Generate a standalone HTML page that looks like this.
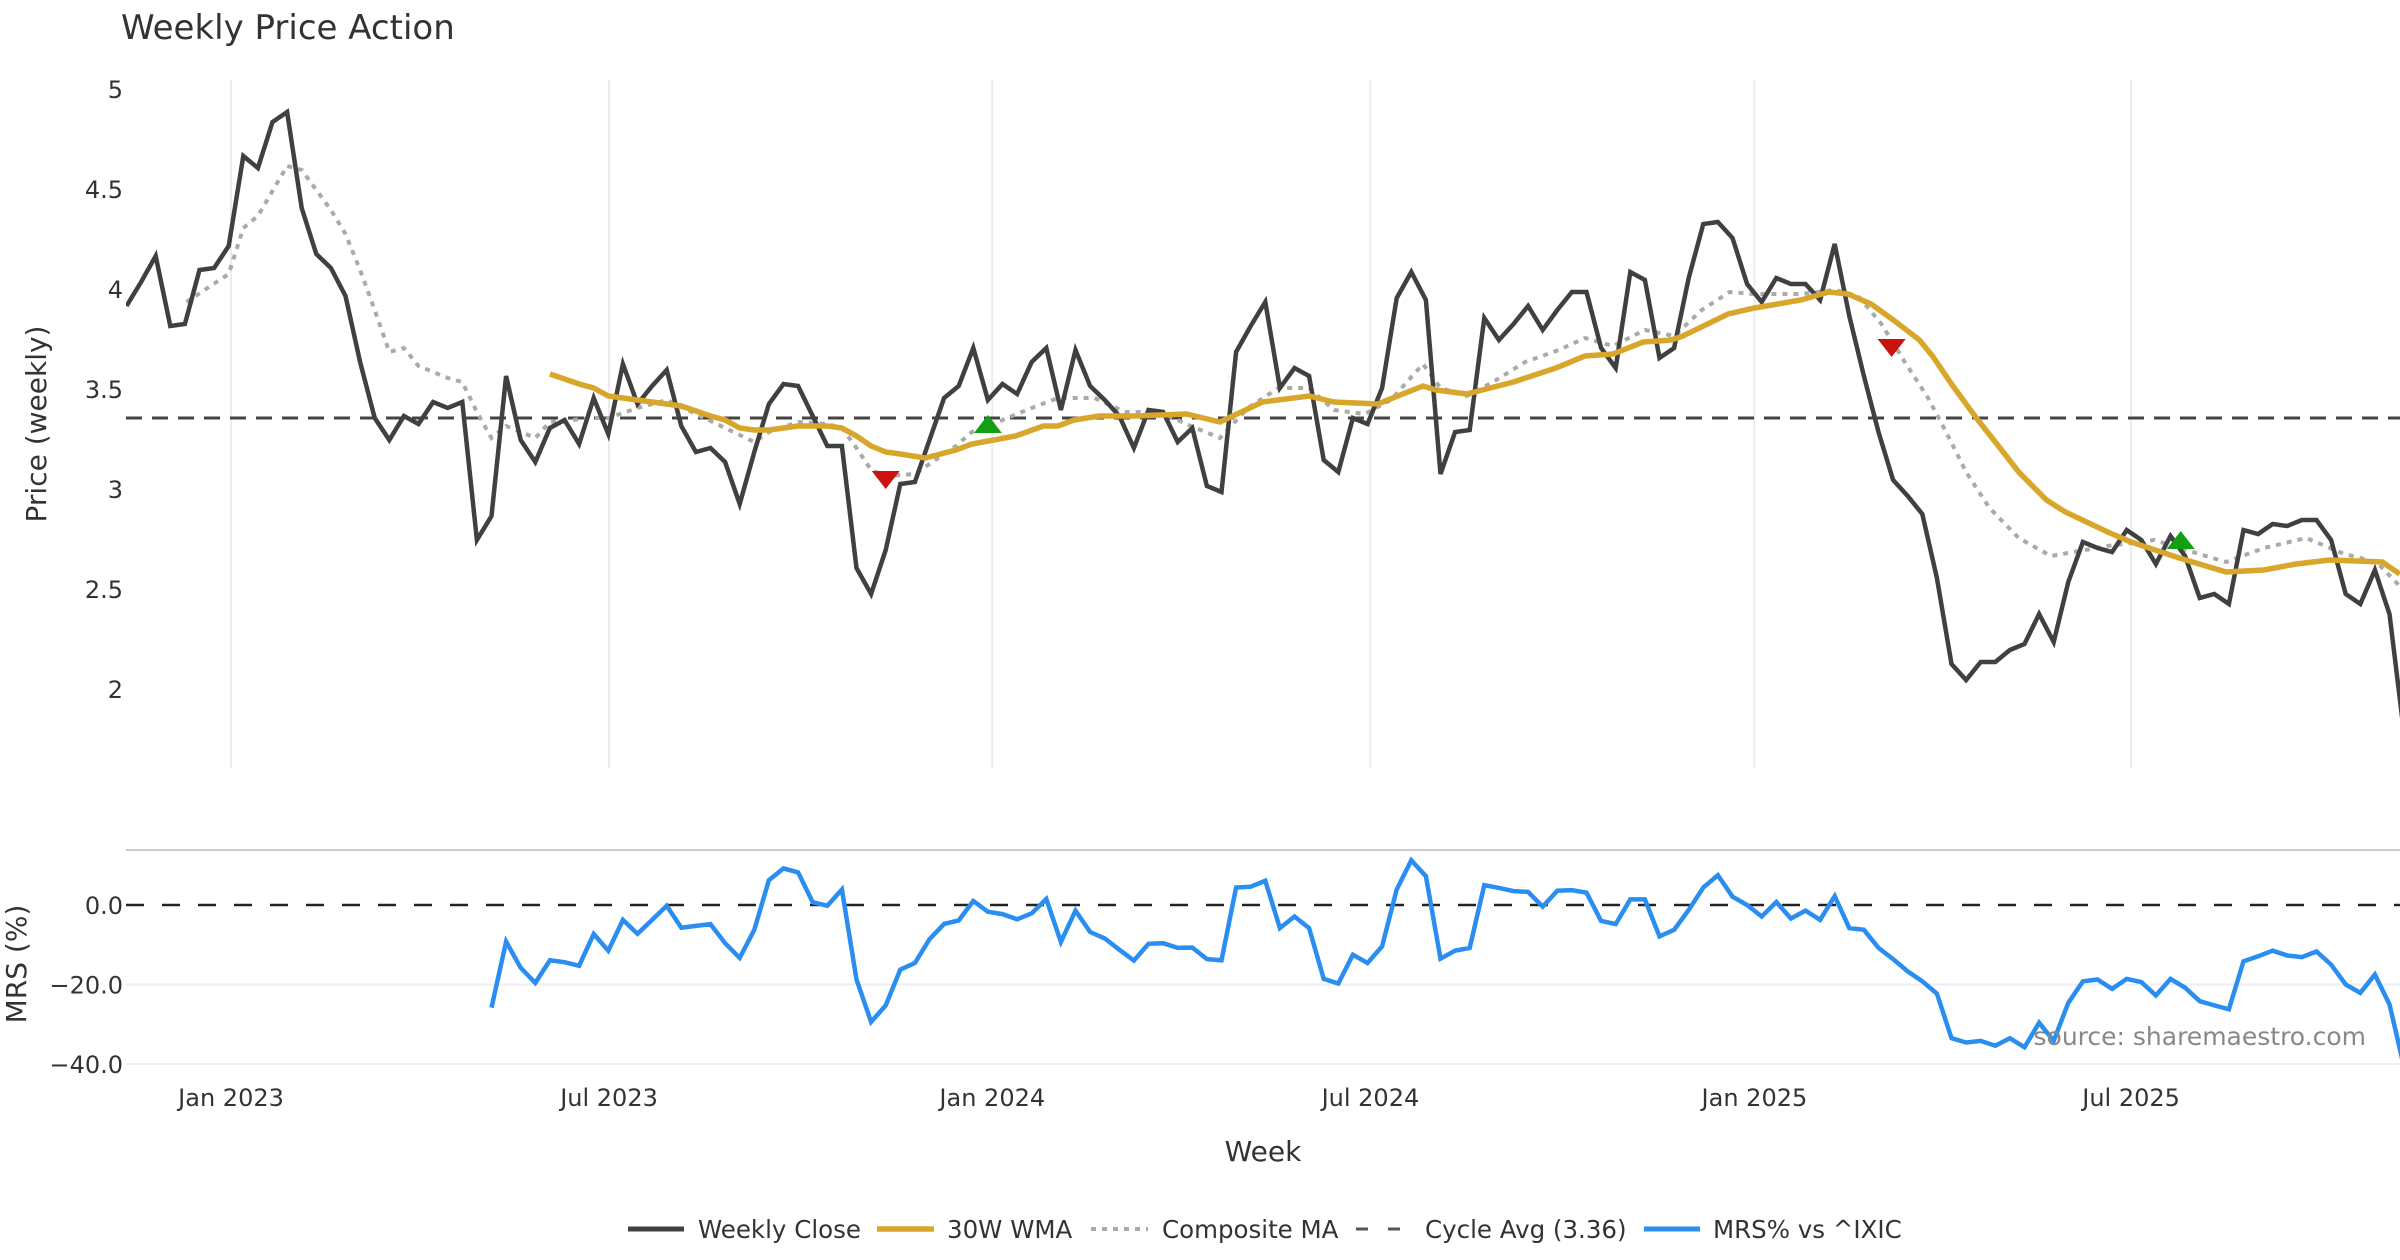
<!DOCTYPE html>
<html><head><meta charset="utf-8"><title>Weekly Price Action</title>
<style>
html,body{margin:0;padding:0;background:#fff;}
svg{display:block;font-family:"DejaVu Sans","Liberation Sans",sans-serif;}
</style></head>
<body>
<svg id="chart" width="2400" height="1260" viewBox="0 0 2400 1260" xmlns="http://www.w3.org/2000/svg">
<rect width="2400" height="1260" fill="#fff"/>
<text x="121" y="39" font-size="34" fill="#333">Weekly Price Action</text>
<text transform="translate(46,424) rotate(-90)" text-anchor="middle" font-size="28" fill="#333">Price (weekly)</text>
<text transform="translate(26,964) rotate(-90)" text-anchor="middle" font-size="28" fill="#333">MRS (%)</text>
<text x="1263" y="1161" text-anchor="middle" font-size="28" fill="#333">Week</text>
<line x1="126" y1="850" x2="2400" y2="850" stroke="#ccc" stroke-width="2"/>
<g id="grid"></g>
<g id="series"></g>
<text x="2366" y="1045" text-anchor="end" font-size="25" fill="#888">source: sharemaestro.com</text>
<g id="legend"></g>
</svg>
<script>
// ---- data ----
const closeWeeks = [0,1,2,3,4,5,6,7,8,9,10,11,12,13,14,15,16,17,18,19,20,21,22,23,24,25,26,27,28,29,30,31,32,33,34,35,36,37,38,39,40,41,42,43,44,45,46,47,48,49,50,51,52,53,54,55,56,57,58,59,60,61,62,63,64,65,66,67,68,69,70,71,72,73,74,75,76,77,78,79,80,81,82,83,84,85,86,87,88,89,90,91,92,93,94,95,96,97,98,99,100,101,102,103,104,105,106,107,108,109,110,111,112,113,114,115,116,117,118,119,120,121,122,123,124,125,126,127,128,129,130,131,132,133,134,135,136,137,138,139,140,141,142,143,144,145,146,147,148,149,150,151,152,153,154,155,156];
const closeValues = [3.92,4.04,4.17,3.82,3.83,4.10,4.11,4.22,4.67,4.61,4.84,4.89,4.41,4.18,4.11,3.97,3.64,3.36,3.25,3.37,3.33,3.44,3.41,3.44,2.75,2.87,3.57,3.25,3.14,3.31,3.35,3.23,3.46,3.28,3.63,3.43,3.52,3.60,3.32,3.19,3.21,3.14,2.93,3.19,3.43,3.53,3.52,3.37,3.22,3.22,2.61,2.48,2.70,3.03,3.04,3.25,3.46,3.52,3.71,3.45,3.53,3.48,3.64,3.71,3.40,3.70,3.52,3.45,3.37,3.21,3.40,3.39,3.24,3.31,3.02,2.99,3.69,3.82,3.94,3.51,3.61,3.57,3.15,3.09,3.36,3.33,3.51,3.96,4.09,3.95,3.08,3.29,3.30,3.86,3.75,3.83,3.92,3.80,3.90,3.99,3.99,3.71,3.61,4.09,4.05,3.66,3.71,4.06,4.33,4.34,4.26,4.03,3.94,4.06,4.03,4.03,3.95,4.23,3.87,3.57,3.29,3.05,2.97,2.88,2.56,2.13,2.05,2.14,2.14,2.20,2.23,2.38,2.24,2.54,2.74,2.71,2.69,2.80,2.75,2.63,2.77,2.67,2.46,2.48,2.43,2.80,2.78,2.83,2.82,2.85,2.85,2.75,2.48,2.43,2.60,2.38,1.78];
const wmaWeeks = [29,31,32,33,35,36,37,38,40,41,42,43,44,45,46,47,48,49,50,51,52,53,54.7,56.8,57.9,60.9,62.8,63.8,64.9,66.6,69,72.6,74.9,77.8,81,82.7,85.7,88.8,89.7,91.8,95,97.9,99.9,101.8,103.9,105.8,106.6,109.7,111.5,114.7,116.6,117.9,119.5,121.2,122.8,123.7,125,126.7,128,129.6,131.5,132.8,135.7,137.3,140.6,143.8,146.4,148.6,150.9,154.5,155.7];
const wmaValues = [3.58,3.53,3.51,3.47,3.45,3.44,3.43,3.42,3.37,3.35,3.31,3.30,3.30,3.31,3.32,3.32,3.32,3.31,3.27,3.22,3.19,3.18,3.16,3.20,3.23,3.27,3.32,3.32,3.35,3.37,3.37,3.38,3.34,3.44,3.47,3.44,3.43,3.52,3.50,3.48,3.54,3.61,3.67,3.68,3.74,3.75,3.77,3.88,3.91,3.95,3.99,3.98,3.93,3.84,3.75,3.67,3.53,3.36,3.24,3.09,2.95,2.89,2.79,2.74,2.66,2.59,2.60,2.63,2.65,2.64,2.58];
const compWeeks = [4.1,7,8,9,11,12,14,15,16,17,18,19,20,22,23,24,25,26,28,29,32,33,35,37,39,41,43,44,46,48,49,50,51,52,54,56.8,57.9,60,62,63.8,66.3,68.4,70.8,72.9,74.9,76.8,78.9,81,82.7,84.8,86.6,88.8,90,91.8,93.6,95.8,98.1,99.9,101.8,104,106,107.9,109.8,111.5,114.7,117,118.6,120.2,121.8,123.4,124.7,126,127.6,129.6,131.8,133.4,135.7,138.9,141.5,143.8,146.4,149.3,151.9,154.1,155.7];
const compValues = [3.94,4.08,4.31,4.37,4.62,4.60,4.40,4.28,4.10,3.90,3.69,3.71,3.62,3.56,3.54,3.39,3.26,3.32,3.26,3.34,3.36,3.36,3.41,3.45,3.38,3.31,3.24,3.29,3.34,3.33,3.31,3.21,3.10,3.07,3.08,3.22,3.29,3.35,3.41,3.46,3.46,3.39,3.39,3.32,3.26,3.41,3.51,3.51,3.40,3.38,3.45,3.63,3.51,3.47,3.54,3.64,3.70,3.76,3.72,3.80,3.77,3.90,3.99,3.98,3.98,4.00,3.97,3.83,3.64,3.46,3.28,3.09,2.91,2.76,2.67,2.69,2.72,2.75,2.69,2.64,2.71,2.76,2.68,2.64,2.52];
const cycleAvg = 3.36;
const sellWeeks = [52,120.9];
const sellValues = [3.05,3.71];
const buyWeeks = [59,140.7];
const buyValues = [3.33,2.75];
const mrsStart = 25;
const mrsValues = [-25.8,-9.2,-15.8,-19.6,-13.9,-14.4,-15.3,-7.3,-11.5,-3.75,-7.25,-3.75,-0.2,-5.7,-5.25,-4.8,-9.6,-13.3,-6.25,6.25,9.2,8.2,0.7,-0.2,3.9,-18.75,-29.4,-25.25,-16.25,-14.6,-8.6,-4.75,-3.9,1.0,-1.7,-2.3,-3.6,-2.1,1.5,-9.3,-1.4,-6.8,-8.4,-11.25,-14,-9.75,-9.6,-10.8,-10.7,-13.6,-13.9,4.4,4.6,6.1,-5.8,-2.9,-5.8,-18.6,-19.75,-12.5,-14.6,-10.4,3.9,11.25,7.25,-13.5,-11.5,-10.8,5.0,4.3,3.5,3.3,-0.4,3.6,3.75,3.1,-4,-4.8,1.4,1.4,-7.9,-6.25,-1.25,4.4,7.5,2.1,0,-2.9,0.75,-3.4,-1.4,-3.75,2.25,-5.8,-6.25,-10.8,-13.6,-16.7,-19.2,-22.3,-33.5,-34.6,-34.2,-35.4,-33.5,-35.8,-29.6,-34.2,-24.6,-19.2,-18.75,-21.1,-18.6,-19.4,-22.75,-18.6,-20.8,-24.2,-25.25,-26.25,-14.2,-12.9,-11.5,-12.7,-13.1,-11.7,-15,-20,-22.1,-17.5,-25,-40.8];
const xTickWeeks = [7.16,33.05,59.3,85.2,111.5,137.3];
const xTickLabels = ["Jan 2023","Jul 2023","Jan 2024","Jul 2024","Jan 2025","Jul 2025"];
const priceTicks = [5,4.5,4,3.5,3,2.5,2];
const priceTickLabels = ["5","4.5","4","3.5","3","2.5","2"];
const mrsTicks = [0,-20,-40];
const mrsTickLabels = ["0.0","\u221220.0","\u221240.0"];

// ---- axes ----
const NS = "http://www.w3.org/2000/svg";
const X0 = 126.5, XW = 14.6;
function xs(w){ return X0 + w*XW; }
function yp(v){ return 90 + (5 - v)*200; }
function ym(v){ return 905 - v*3.975; }
function mk(tag, attrs, parent){
  const e = document.createElementNS(NS, tag);
  for (const k in attrs) e.setAttribute(k, attrs[k]);
  parent.appendChild(e); return e;
}
const grid = document.getElementById('grid');
const series = document.getElementById('series');
const legend = document.getElementById('legend');

const defs = mk('defs', {}, document.getElementById('chart'));
const cp1 = mk('clipPath', {id:'cpTop'}, defs); mk('rect',{x:126,y:78,width:2274,height:692},cp1);
const cp2 = mk('clipPath', {id:'cpBot'}, defs); mk('rect',{x:126,y:851,width:2274,height:222},cp2);

xTickWeeks.forEach((w,i)=>{
  const g = mk('line',{x1:xs(w),y1:80,x2:xs(w),y2:768,stroke:'#ececf0','stroke-width':2},grid);
  
  
  const t = mk('text',{x:xs(w),y:1106,'text-anchor':'middle','font-size':24,fill:'#333'},grid);
  t.textContent = xTickLabels[i];
  
  
});
priceTicks.forEach((v,i)=>{
  const t = mk('text',{x:123,y:yp(v)+8,'text-anchor':'end','font-size':24,fill:'#333'},grid);
  t.textContent = priceTickLabels[i];
  
  
});
mrsTicks.forEach((v,i)=>{
  if (v!==0){
    const l = mk('line',{x1:126,y1:ym(v),x2:2400,y2:ym(v),stroke:'#eeeef4','stroke-width':2},grid);
    
    
  }
  const t = mk('text',{x:123,y:ym(v)+9,'text-anchor':'end','font-size':24,fill:'#333'},grid);
  t.textContent = mrsTickLabels[i];
  
  
});

function pathFrom(ws, vs, yf){
  return ws.map((w,i)=>(i?'L':'M')+xs(w).toFixed(1)+','+yf(vs[i]).toFixed(1)).join(' ');
}

const ca = mk('line',{x1:126,y1:yp(cycleAvg),x2:2400,y2:yp(cycleAvg),stroke:'#444','stroke-width':3,'stroke-dasharray':'16 10'},series);


const cm = mk('path',{d:pathFrom(compWeeks,compValues,yp),fill:'none',stroke:'#aaa','stroke-width':4,'stroke-dasharray':'5 6','clip-path':'url(#cpTop)'},series);


const cl = mk('path',{d:pathFrom(closeWeeks,closeValues,yp),fill:'none',stroke:'#404040','stroke-width':4.5,'stroke-linejoin':'miter','clip-path':'url(#cpTop)'},series);


const wm = mk('path',{d:pathFrom(wmaWeeks,wmaValues,yp),fill:'none',stroke:'#d8a62a','stroke-width':5.5,'clip-path':'url(#cpTop)'},series);


sellWeeks.forEach((w,i)=>{
  const x = xs(w), y = yp(sellValues[i]);
  const p = mk('polygon',{points:`${x-14},${y-9} ${x+14},${y-9} ${x},${y+9}`,fill:'#cc1111'},series);
  
  
});
buyWeeks.forEach((w,i)=>{
  const x = xs(w), y = yp(buyValues[i]);
  const p = mk('polygon',{points:`${x-14},${y+9} ${x+14},${y+9} ${x},${y-9}`,fill:'#11a011'},series);
  
  
});
const z = mk('line',{x1:126,y1:ym(0),x2:2400,y2:ym(0),stroke:'#222','stroke-width':2.5,'stroke-dasharray':'18 18'},series);


const mw = mrsValues.map((v,i)=>mrsStart+i);
const mr = mk('path',{d:pathFrom(mw,mrsValues,ym),fill:'none',stroke:'#2a8ef0','stroke-width':4.5,'clip-path':'url(#cpBot)'},series);



const items = [
  {x1:628,x2:684,tx:698,label:'Weekly Close',stroke:'#404040',w:5,dash:''},
  {x1:877,x2:934,tx:947,label:'30W WMA',stroke:'#d8a62a',w:5.5,dash:''},
  {x1:1091,x2:1148,tx:1162,label:'Composite MA',stroke:'#aaa',w:4,dash:'5 6'},
  {x1:1356,x2:1411,tx:1425,label:'Cycle Avg (3.36)',stroke:'#555',w:3,dash:'12 20'},
  {x1:1644,x2:1700,tx:1713,label:'MRS% vs ^IXIC',stroke:'#2a8ef0',w:5,dash:''}
];
items.forEach(it=>{
  const g = mk('g',{},legend);
  
  
  const l = mk('line',{x1:it.x1,y1:1229,x2:it.x2,y2:1229,stroke:it.stroke,'stroke-width':it.w},g);
  if (it.dash) l.setAttribute('stroke-dasharray',it.dash);
  const t = mk('text',{x:it.tx,y:1238,'font-size':24.5,fill:'#333'},g);
  t.textContent = it.label;
});
</script>
</body></html>
